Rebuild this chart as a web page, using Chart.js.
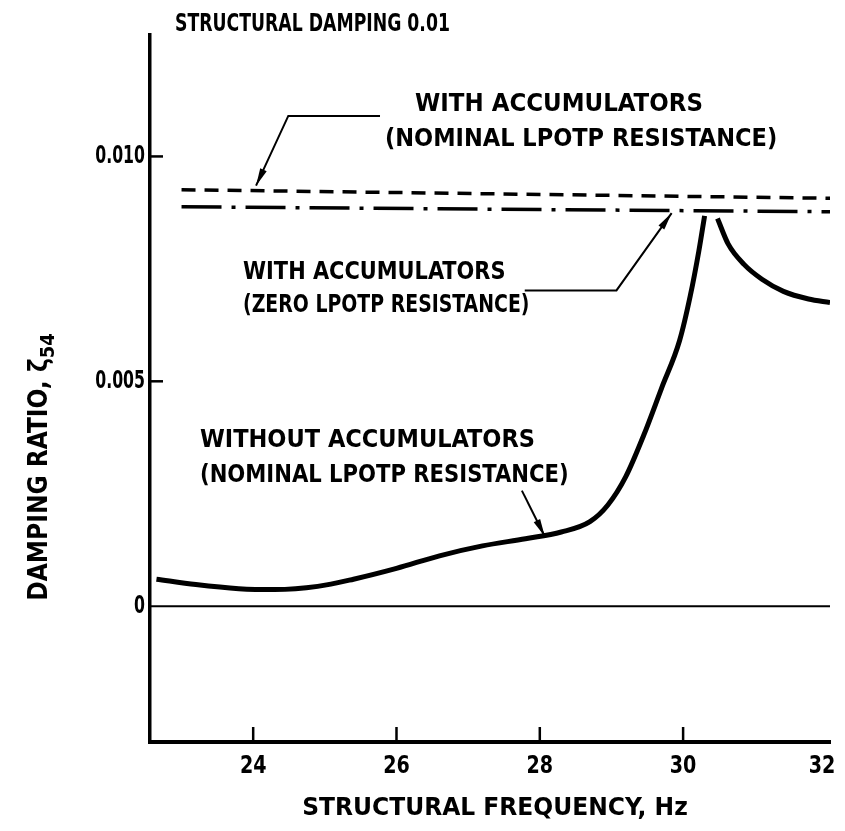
<!DOCTYPE html>
<html>
<head>
<meta charset="utf-8">
<script src="https://cdn.jsdelivr.net/npm/chart.js@4"></script>
<style>
  body { margin: 0; background: #fff; }
  #wrap { width: 845px; height: 831px; }
</style>
</head>
<body>
<div id="wrap"><canvas id="c" width="845" height="831"></canvas></div>
<script>
// Damping ratio vs structural frequency (structural damping 0.01)

// without accumulators, nominal LPOTP resistance (rising branch up to the peak)
const noAccFreqA = [22.65, 23.2, 23.8, 24.3, 24.9, 25.4, 26.0, 26.6, 27.2, 27.8, 28.3, 28.7, 28.95, 29.2, 29.45, 29.7, 29.95, 30.1, 30.22, 30.3];
const noAccDampA = [0.00060, 0.00048, 0.00039, 0.00037, 0.00044, 0.00060, 0.00084, 0.00112, 0.00134, 0.00150, 0.00165, 0.00188, 0.00225, 0.00288, 0.00380, 0.00485, 0.00590, 0.00690, 0.00790, 0.00868];
// falling branch after the peak
const noAccFreqB = [30.48, 30.63, 30.85, 31.1, 31.4, 31.75, 32.05];
const noAccDampB = [0.00862, 0.00805, 0.00760, 0.00727, 0.00700, 0.00683, 0.00675];

// with accumulators
const nominalFreq = [23.0, 32.05];
const nominalDamp = [0.00926, 0.00907];
const zeroResFreq = [23.0, 32.05];
const zeroResDamp = [0.00888, 0.00877];

// reference line at zero damping
const baseFreq = [22.56, 32.05];
const baseDamp = [0, 0];

const xTicks = [24, 26, 28, 30, 32];
const yTicks = [0, 0.005, 0.010];
const yTickLabels = ['0', '0.005', '0.010'];

const FONT = '"DejaVu Sans Condensed", "Liberation Sans Narrow", sans-serif';

function pts(xs, ys) {
  return xs.map((x, i) => ({ x: x, y: ys[i] }));
}

// lettering: bold, squeezed horizontally
function say(ctx, str, x, y, size, sx, align) {
  ctx.save();
  ctx.font = 'bold ' + size + 'px ' + FONT;
  ctx.textBaseline = 'middle';
  ctx.textAlign = 'left';
  const w = ctx.measureText(str).width * sx;
  let left = x;
  if (align === 'center') left = x - w / 2;
  if (align === 'right') left = x - w;
  ctx.translate(left, y);
  ctx.scale(sx, 1);
  ctx.fillText(str, 0, 0);
  ctx.restore();
  return w;
}

// ticks, text and leader lines drawn on top of the plot
const notes = {
  id: 'notes',
  afterDraw(chart) {
    const ctx = chart.ctx;
    const xs = chart.scales.x, ys = chart.scales.y;
    const X = v => xs.getPixelForValue(v);
    const Y = v => ys.getPixelForValue(v);
    const area = chart.chartArea;

    ctx.save();
    ctx.strokeStyle = '#000';
    ctx.fillStyle = '#000';

    // inward tick marks
    ctx.lineWidth = 2.5;
    xTicks.slice(0, 4).forEach(t => {
      ctx.beginPath();
      ctx.moveTo(X(t), area.bottom);
      ctx.lineTo(X(t), area.bottom - 15);
      ctx.stroke();
    });
    [0.005, 0.010].forEach(t => {
      ctx.beginPath();
      ctx.moveTo(area.left, Y(t));
      ctx.lineTo(area.left + 13, Y(t));
      ctx.stroke();
    });

    // tick labels
    xTicks.forEach(t => say(ctx, String(t), Math.min(X(t), area.right - 8), area.bottom + 24, 25, 0.85, 'center'));
    yTicks.forEach((t, i) => say(ctx, yTickLabels[i], area.left - 5, Y(t), 25, 0.7, 'right'));

    // notes
    say(ctx, 'STRUCTURAL DAMPING 0.01', 175, 25, 24, 0.8);
    say(ctx, 'WITH ACCUMULATORS', 415, 104, 25, 1.02);
    say(ctx, '(NOMINAL LPOTP RESISTANCE)', 385, 139, 25, 1.0);
    say(ctx, 'WITH ACCUMULATORS', 243, 272, 25, 0.93);
    say(ctx, '(ZERO LPOTP RESISTANCE)', 243, 305, 25, 0.84);
    say(ctx, 'WITHOUT ACCUMULATORS', 200, 440, 25, 1.0);
    say(ctx, '(NOMINAL LPOTP RESISTANCE)', 200, 475, 25, 0.94);

    // axis titles
    say(ctx, 'STRUCTURAL FREQUENCY, Hz', 495, 808, 25, 1.04, 'center');
    ctx.save();
    ctx.translate(40, 467);
    ctx.rotate(-Math.PI / 2);
    ctx.font = 'bold 26px ' + FONT;
    const t1 = 'DAMPING RATIO, ζ';
    const w1 = ctx.measureText(t1).width;
    ctx.font = 'bold 20px ' + FONT;
    const w2 = ctx.measureText('54').width;
    const x0 = -(w1 + w2) / 2;
    say(ctx, t1, x0, 0, 26, 1);
    say(ctx, '54', x0 + w1, 9, 20, 1);
    ctx.restore();

    // leaders with arrowheads
    function leader(path) {
      ctx.lineWidth = 2;
      ctx.beginPath();
      ctx.moveTo(X(path[0][0]), Y(path[0][1]));
      for (let i = 1; i < path.length; i++) ctx.lineTo(X(path[i][0]), Y(path[i][1]));
      ctx.stroke();
      const [ax, ay] = [X(path[path.length - 2][0]), Y(path[path.length - 2][1])];
      const [bx, by] = [X(path[path.length - 1][0]), Y(path[path.length - 1][1])];
      const a = Math.atan2(by - ay, bx - ax);
      ctx.beginPath();
      ctx.moveTo(bx, by);
      ctx.lineTo(bx - 18 * Math.cos(a - 0.2), by - 18 * Math.sin(a - 0.2));
      ctx.lineTo(bx - 18 * Math.cos(a + 0.2), by - 18 * Math.sin(a + 0.2));
      ctx.closePath();
      ctx.fill();
    }
    leader([[25.77, 0.01090], [24.49, 0.01090], [24.04, 0.00935]]);
    leader([[27.79, 0.00702], [29.07, 0.00702], [29.84, 0.00874]]);
    leader([[27.75, 0.00257], [28.07, 0.00155]]);

    ctx.restore();
  }
};

const ctx = document.getElementById('c').getContext('2d');

new Chart(ctx, {
  type: 'scatter',
  data: {
    datasets: [
      {
        data: pts(noAccFreqA, noAccDampA),
        showLine: true, borderColor: '#000', borderWidth: 5,
        pointRadius: 0, cubicInterpolationMode: 'monotone'
      },
      {
        data: pts(noAccFreqB, noAccDampB),
        showLine: true, borderColor: '#000', borderWidth: 5,
        pointRadius: 0, cubicInterpolationMode: 'monotone'
      },
      {
        data: pts(nominalFreq, nominalDamp),
        showLine: true, borderColor: '#000', borderWidth: 3.5,
        borderDash: [14, 9], pointRadius: 0
      },
      {
        data: pts(zeroResFreq, zeroResDamp),
        showLine: true, borderColor: '#000', borderWidth: 3.5,
        borderDash: [40, 10, 4, 10], pointRadius: 0
      },
      {
        data: pts(baseFreq, baseDamp),
        showLine: true, borderColor: '#000', borderWidth: 2, pointRadius: 0
      }
    ]
  },
  options: {
    responsive: false,
    animation: false,
    layout: { padding: { top: 35, right: 15, left: 0, bottom: 0 } },
    plugins: { legend: { display: false }, tooltip: { enabled: false } },
    scales: {
      x: {
        type: 'linear',
        min: 22.56,
        max: 32.05,
        afterBuildTicks: s => { s.ticks = xTicks.map(v => ({ value: v })); },
        afterFit: s => { s.height = 89; },
        grid: { display: false, drawTicks: false },
        border: { color: '#000', width: 4 },
        ticks: { display: false }
      },
      y: {
        type: 'linear',
        min: -0.00302,
        max: 0.0127,
        afterBuildTicks: s => { s.ticks = yTicks.map(v => ({ value: v })); },
        afterFit: s => { s.width = 150; },
        grid: { display: false, drawTicks: false },
        border: { color: '#000', width: 3.5 },
        ticks: { display: false }
      }
    }
  },
  plugins: [notes]
});
</script>
</body>
</html>
